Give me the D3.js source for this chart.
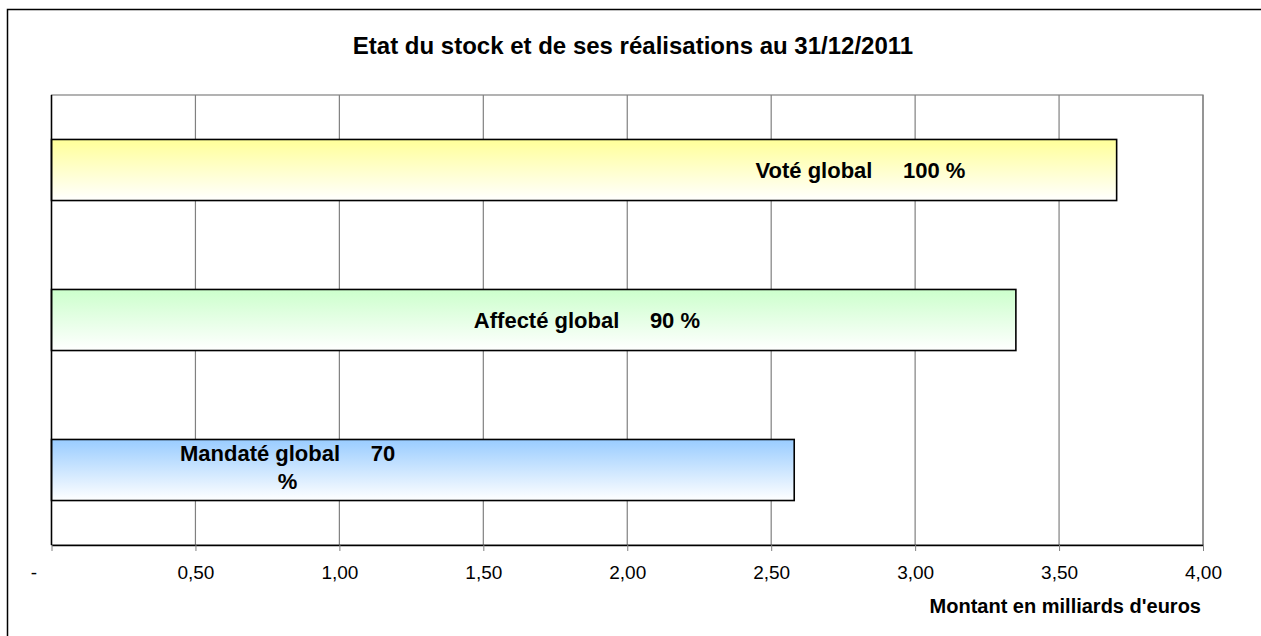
<!DOCTYPE html>
<html>
<meta charset="utf-8">
<style>
body { margin: 0; background: #fff; font-family: "Liberation Sans", Arial, sans-serif; }
.grid line { stroke: #808080; stroke-width: 1.2; }
.axis path, .axis line { stroke: #404040; }
.axis text { font-size: 19px; fill: #000; }
.lbl { font-size: 22px; font-weight: bold; white-space: pre; }
</style>
<body>
<script src="https://cdn.jsdelivr.net/npm/d3@7"></script>
<script>
// data
var categories = ["Voté global", "Affecté global", "Mandaté global"];
var values = [3.70, 3.35, 2.58];
var percents = ["100 %", "90 %", "70"];
var tickValues = [0, 0.5, 1, 1.5, 2, 2.5, 3, 3.5, 4];
var tickLabels = ["-", "0,50", "1,00", "1,50", "2,00", "2,50", "3,00", "3,50", "4,00"];
var barColors = ["#FFFF99", "#CCFFCC", "#99CCFF"];
// where each label sits, in euros units along the axis
var labelAt = [2.81, 1.86, 0.82];

var W = 1261, H = 636;
var margin = {top: 95, right: 58, bottom: 91, left: 51.5};
var width = W - margin.left - margin.right,
    height = H - margin.top - margin.bottom;

var svg = d3.select("body").append("svg")
    .attr("width", W)
    .attr("height", H);

// outer chart border
svg.append("rect")
    .attr("x", 7.5).attr("y", 9.5)
    .attr("width", 1262).attr("height", 640)
    .style("fill", "none").style("stroke", "#000").style("stroke-width", 1.5);

svg.append("text")
    .attr("x", 633).attr("y", 54)
    .style("text-anchor", "middle")
    .style("font-size", "24px").style("font-weight", "bold")
    .text("Etat du stock et de ses réalisations au 31/12/2011");

var defs = svg.append("defs");
barColors.forEach(function(c, i) {
  var g = defs.append("linearGradient")
      .attr("id", "grad" + i)
      .attr("x1", 0).attr("y1", 0).attr("x2", 0).attr("y2", 1);
  g.append("stop").attr("offset", "0%").attr("stop-color", c);
  g.append("stop").attr("offset", "100%").attr("stop-color", "#fff");
});

var g = svg.append("g")
    .attr("transform", "translate(" + margin.left + "," + margin.top + ")");

var x = d3.scaleLinear().domain([0, 4]).range([0, width]);
var y = d3.scaleBand().domain(categories).range([0, height]).paddingInner(0.593).paddingOuter(0.2965);

// gridlines
g.append("g").attr("class", "grid")
  .selectAll("line")
  .data(tickValues.slice(1))
  .enter().append("line")
    .attr("x1", function(d) { return x(d); })
    .attr("x2", function(d) { return x(d); })
    .attr("y1", 0).attr("y2", height);

// plot area frame (top + right grey)
g.append("rect")
    .attr("width", width).attr("height", height)
    .style("fill", "none").style("stroke", "#808080").style("stroke-width", 1.2);

// bars
g.selectAll(".bar")
    .data(categories)
  .enter().append("rect")
    .attr("class", "bar")
    .attr("x", 0)
    .attr("y", function(d) { return y(d); })
    .attr("width", function(d, i) { return x(values[i]); })
    .attr("height", y.bandwidth())
    .style("fill", function(d, i) { return "url(#grad" + i + ")"; })
    .style("stroke", "#000")
    .style("stroke-width", 1.6);

// x axis
var xAxis = d3.axisBottom(x)
    .tickValues(tickValues)
    .tickSize(6)
    .tickSizeOuter(0)
    .tickFormat(function(d, i) { return tickLabels[i]; });

var ax = g.append("g")
    .attr("class", "axis")
    .attr("transform", "translate(0," + height + ")")
    .call(xAxis);
ax.select(".domain").style("stroke", "#000").style("stroke-width", 1.5);
ax.selectAll(".tick line").style("stroke", "#808080");
ax.selectAll(".tick text").attr("y", 21)
  .attr("dx", function(d) { return d === 0 ? -18 : 0; })
  .style("font-family", "Liberation Sans, Arial, sans-serif");

// y axis line
g.append("line")
    .attr("x1", 0).attr("x2", 0).attr("y1", 0).attr("y2", height)
    .style("stroke", "#000").style("stroke-width", 1.5);

g.append("text")
    .attr("x", width - 2).attr("y", height + 68)
    .style("text-anchor", "end")
    .style("font-size", "20px").style("font-weight", "bold")
    .text("Montant en milliards d'euros");

// bar labels
categories.forEach(function(c, i) {
  var cy = y(c) + y.bandwidth() / 2;
  var t = g.append("text").attr("class", "lbl")
      .attr("x", x(labelAt[i]))
      .style("text-anchor", "middle");
  if (i === 2) {
    t.append("tspan").attr("x", x(labelAt[i])).attr("y", cy - 9).text(c + "     " + percents[i]);
    t.append("tspan").attr("x", x(labelAt[i])).attr("y", cy + 19).text("%");
  } else {
    t.attr("y", cy + 8).text(c + "     " + percents[i]);
  }
});
</script>
</body>
</html>
